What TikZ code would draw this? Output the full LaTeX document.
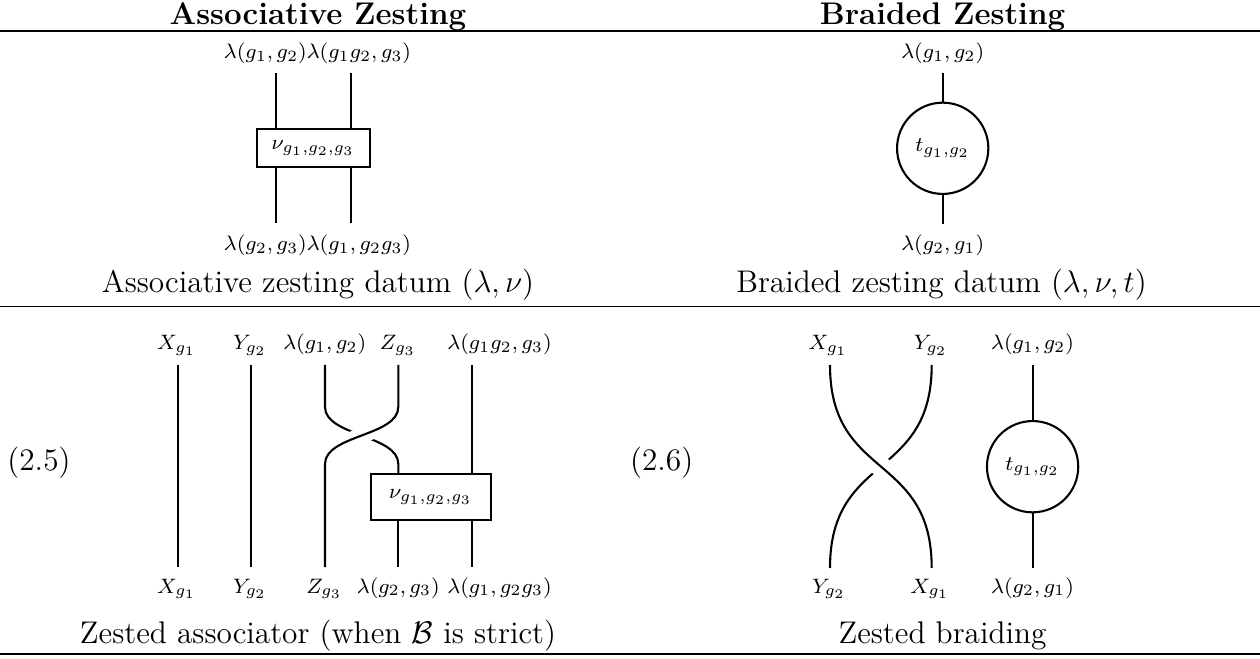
\documentclass[tikz,border=0pt]{standalone}
\usepackage{amsmath}
\usepackage{amsfonts}
\usepackage{amssymb}
\usetikzlibrary{positioning}
\usetikzlibrary{calc}

\tikzset{
	strand/.style={thick},
	over/.style={thick,preaction={draw,white,line width=#1}},
	zlabel/.style={anchor=base,inner sep=0pt,font=\fontsize{8.4}{10}\selectfont},
	zbox/.style={draw,thick,rectangle,inner sep=0pt,font=\fontsize{8.4}{10}\selectfont},
	zcirc/.style={draw,thick,circle,minimum size=35pt,inner sep=0pt,font=\fontsize{8.4}{10}\selectfont},
	heading/.style={anchor=base,inner sep=0pt,font=\fontsize{12}{14}\selectfont\bfseries},
	caption/.style={anchor=base,inner sep=0pt,font=\fontsize{12}{14}\selectfont},
	eqnum/.style={inner sep=0pt,font=\fontsize{12}{14}\selectfont}
}

\begin{document}
\begin{tikzpicture}[x=0.3834pt,y=-0.3834pt]
	\useasboundingbox (0,0) rectangle (1260,659);

	\node[heading] (hassoc) at (318,25) {Associative Zesting};
	\node[heading] (hbraid) at (942.5,25) {Braided Zesting};
	\draw[line width=0.8pt] (0,31) -- (1260,31);

	% associative zesting datum
	\coordinate (a1t) at (275.7,73);
	\coordinate (a2t) at (351,73);
	\coordinate (a1b) at (275.7,223);
	\coordinate (a2b) at (351,223);
	\node[zbox,minimum width=43.3pt,minimum height=14.6pt] (nua) at (313.3,148) {$\nu_{g_1,g_2,g_3}$};
	\draw[strand] (a1t) -- (a1t |- nua.north);
	\draw[strand] (a2t) -- (a2t |- nua.north);
	\draw[strand] (a1b) -- (a1b |- nua.south);
	\draw[strand] (a2b) -- (a2b |- nua.south);
	\node[zlabel] (latop) at (317.5,59) {$\lambda(g_1,g_2)\lambda(g_1g_2,g_3)$};
	\node[zlabel] (labot) at (317.5,251) {$\lambda(g_2,g_3)\lambda(g_1,g_2g_3)$};
	\node[caption] (capa) at (318,293) {Associative zesting datum $(\lambda,\nu)$};

	% braided zesting datum
	\coordinate (b1t) at (942.7,73);
	\coordinate (b1b) at (942.7,224);
	\node[zcirc] (ta) at (942.7,148.3) {$t_{g_1,g_2}$};
	\draw[strand] (b1t) -- (ta.north);
	\draw[strand] (ta.south) -- (b1b);
	\node[zlabel] (lbtop) at (942.7,59) {$\lambda(g_1,g_2)$};
	\node[zlabel] (lbbot) at (942.7,251) {$\lambda(g_2,g_1)$};
	\node[caption] (capb) at (941.5,293) {Braided zesting datum $(\lambda,\nu,t)$};

	\draw[line width=0.4pt] (0,306.5) -- (1260,306.5);

	% zested associator
	\node[eqnum] (eqa) at (39,463) {(2.5)};
	\coordinate (xt) at (177.7,365);
	\coordinate (xb) at (177.7,567);
	\coordinate (yt) at (251,365);
	\coordinate (yb) at (251,567);
	\coordinate (lt) at (325,365);
	\coordinate (zb) at (325,567);
	\coordinate (zt) at (398.3,365);
	\coordinate (lb) at (398.3,567);
	\coordinate (mt) at (472.3,365);
	\coordinate (mb) at (472.3,567);
	\node[zbox,minimum width=46pt,minimum height=17.6pt] (nub) at (430.7,497) {$\nu_{g_1,g_2,g_3}$};
	\draw[strand] (xt) -- (xb);
	\draw[strand] (yt) -- (yb);
	\draw[strand] (lt) -- ++(0,42) to[out=-90,in=90,looseness=0.8] ++(73.3,57) -- (zt |- nub.north);
	\draw[over=6pt] (zt) -- ++(0,42) to[out=-90,in=90,looseness=0.8] ++(-73.3,57) -- (zb);
	\draw[strand] (mt) -- (mt |- nub.north);
	\draw[strand] (lb |- nub.south) -- (lb);
	\draw[strand] (mb |- nub.south) -- (mb);
	\node[zlabel] (xtl) at (176.7,350) {$X_{g_1}$};
	\node[zlabel] (ytl) at (250,350) {$Y_{g_2}$};
	\node[zlabel] (ltl) at (324.7,350) {$\lambda(g_1,g_2)$};
	\node[zlabel] (ztl) at (398,350) {$Z_{g_3}$};
	\node[zlabel] (mtl) at (499.5,350) {$\lambda(g_1g_2,g_3)$};
	\node[zlabel] (xbl) at (176.7,593) {$X_{g_1}$};
	\node[zlabel] (ybl) at (250,593) {$Y_{g_2}$};
	\node[zlabel] (zbl) at (324.3,593) {$Z_{g_3}$};
	\node[zlabel] (lbl) at (398.3,593) {$\lambda(g_2,g_3)$};
	\node[zlabel] (mbl) at (499.5,593) {$\lambda(g_1,g_2g_3)$};
	\node[caption] (capc) at (318,643) {Zested associator (when $\mathcal{B}$ is strict)};

	% zested braiding
	\node[eqnum] (eqb) at (661.7,463) {(2.6)};
	\coordinate (bxt) at (830,365);
	\coordinate (bxb) at (931.7,568);
	\coordinate (byt) at (931.7,365);
	\coordinate (byb) at (830,568);
	\coordinate (blt) at (1032.6,365);
	\coordinate (blb) at (1032.6,568);
	\node[zcirc] (tb) at (1032.6,466.7) {$t_{g_1,g_2}$};
	\draw[strand] (byt) to[out=-90,in=90,looseness=1.3] (byb);
	\draw[over=8pt] (bxt) to[out=-90,in=90,looseness=1.3] (bxb);
	\draw[strand] (blt) -- (tb.north);
	\draw[strand] (tb.south) -- (blb);
	\node[zlabel] (bxtl) at (828.3,350) {$X_{g_1}$};
	\node[zlabel] (bytl) at (930.8,350) {$Y_{g_2}$};
	\node[zlabel] (bltl) at (1032.5,350) {$\lambda(g_1,g_2)$};
	\node[zlabel] (bybl) at (829,593) {$Y_{g_2}$};
	\node[zlabel] (bxbl) at (930,593) {$X_{g_1}$};
	\node[zlabel] (blbl) at (1032.5,593) {$\lambda(g_2,g_1)$};
	\node[caption] (capd) at (942.5,643) {Zested braiding};

	\draw[line width=0.8pt] (0,654) -- (1260,654);
\end{tikzpicture}
\end{document}
